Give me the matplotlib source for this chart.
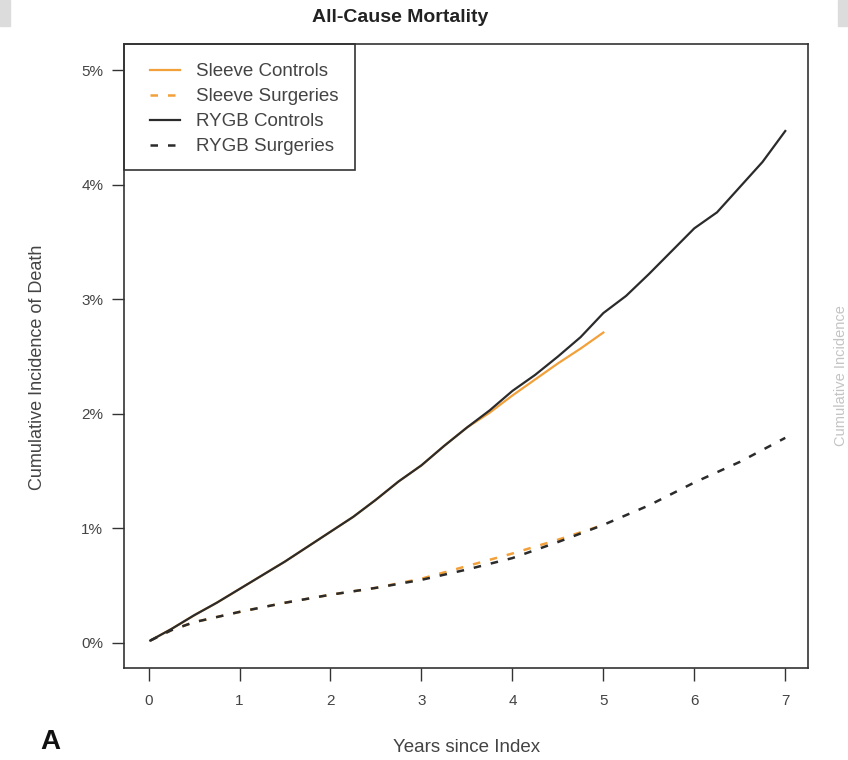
import numpy as np
import matplotlib
matplotlib.use("Agg")
import matplotlib.pyplot as plt
from matplotlib.patches import Rectangle

plt.rcParams['font.family'] = ['Liberation Sans', 'DejaVu Sans']

# values (years, cumulative incidence in %)
rygb_ctrl_t = [0.02, 0.25, 0.5, 0.75, 1, 1.25, 1.5, 1.75, 2, 2.25, 2.5, 2.75, 3, 3.25,
               3.5, 3.75, 4, 4.25, 4.5, 4.75, 5, 5.25, 5.5, 5.75, 6, 6.25, 6.5, 6.75, 7]
rygb_ctrl_y = [0.02, 0.12, 0.24, 0.35, 0.47, 0.59, 0.71, 0.84, 0.97, 1.10, 1.25, 1.41, 1.55,
               1.72, 1.88, 2.03, 2.20, 2.34, 2.50, 2.67, 2.88, 3.03, 3.22, 3.42, 3.62, 3.76,
               3.98, 4.20, 4.47]

sleeve_ctrl_t = [0.02, 0.25, 0.5, 0.75, 1, 1.25, 1.5, 1.75, 2, 2.25, 2.5, 2.75, 3, 3.25,
                 3.5, 3.75, 4, 4.25, 4.5, 4.75, 5]
sleeve_ctrl_y = [0.02, 0.12, 0.24, 0.35, 0.47, 0.59, 0.71, 0.84, 0.97, 1.10, 1.25, 1.41, 1.55,
                 1.72, 1.88, 2.01, 2.16, 2.30, 2.44, 2.57, 2.71]

rygb_surg_t = [0.02, 0.25, 0.5, 1, 1.5, 2, 2.5, 3, 3.5, 4, 4.5, 5, 5.5, 6, 6.5, 7]
rygb_surg_y = [0.02, 0.11, 0.18, 0.27, 0.35, 0.42, 0.48, 0.55, 0.64, 0.74, 0.88, 1.03,
               1.20, 1.40, 1.58, 1.79]

sleeve_surg_t = [0.02, 0.25, 0.5, 1, 1.5, 2, 2.5, 3, 3.5, 4, 4.5, 5]
sleeve_surg_y = [0.02, 0.11, 0.18, 0.27, 0.35, 0.42, 0.48, 0.56, 0.67, 0.78, 0.90, 1.03]

x_ticks = [0, 1, 2, 3, 4, 5, 6, 7]
y_ticks = [0, 1, 2, 3, 4, 5]

orange = '#F2A03A'
dark = '#2b2b2b'
text_col = '#444444'

W, H = 848, 760
fig = plt.figure(figsize=(W / 100, H / 100), dpi=100)
ax = fig.add_axes([124 / W, 92 / H, 684 / W, 624 / H])

ax.plot(sleeve_ctrl_t, sleeve_ctrl_y, color=orange, lw=1.6, label='Sleeve Controls')
ax.plot(sleeve_surg_t, sleeve_surg_y, color=orange, lw=1.8, dashes=(3, 4),
        label='Sleeve Surgeries')
ax.plot(rygb_ctrl_t, rygb_ctrl_y, color=dark, lw=1.6, label='RYGB Controls')
ax.plot(rygb_surg_t, rygb_surg_y, color=dark, lw=1.8, dashes=(3, 4),
        label='RYGB Surgeries')

ax.set_xlim(-0.27, 7.25)
ax.set_ylim(-0.22, 5.23)
ax.set_xticks(x_ticks)
ax.set_xticklabels([str(v) for v in x_ticks])
ax.set_yticks(y_ticks)
ax.set_yticklabels([f'{v}%' for v in y_ticks])
ax.tick_params(axis='both', direction='out', length=9, width=1, color='#333333',
               labelsize=11, labelcolor=text_col)
ax.tick_params(axis='x', pad=10)
ax.tick_params(axis='y', pad=6)
for s in ax.spines.values():
    s.set_color('#333333')
    s.set_linewidth(1.2)

# legend without its own frame, box drawn separately (R-style padding)
leg = ax.legend(loc='upper left', bbox_to_anchor=(150 / W, 1 - 63 / H),
                bbox_transform=fig.transFigure, borderaxespad=0, borderpad=0,
                frameon=False, fontsize=13.5, handlelength=1.6, handletextpad=0.85,
                labelspacing=0.42)
for t in leg.get_texts():
    t.set_color(text_col)
fig.patches.append(Rectangle((124 / W, 1 - 170 / H), 231 / W, 126 / H,
                             transform=fig.transFigure, fill=False,
                             edgecolor='#333333', lw=1.2, zorder=5))

fig.text(400 / W, 1 - 18 / H, 'All-Cause Mortality', ha='center', va='center',
         fontsize=14, fontweight='bold', color='#222222')
fig.text(467 / W, 1 - 747 / H, 'Years since Index', ha='center', va='center',
         fontsize=13.5, color=text_col)
fig.text(38 / W, 1 - 367 / H, 'Cumulative Incidence of Death', ha='center',
         va='center', rotation=90, fontsize=13, color=text_col)
fig.text(50 / W, 1 - 742 / H, 'A', ha='center', va='center', fontsize=20,
         fontweight='bold', color='#111111')

# edge of the neighbouring panel
fig.text(841 / W, 1 - 376 / H, 'Cumulative Incidence', ha='center', va='center',
         rotation=90, fontsize=10.5, color='#c4c4c4')
fig.patches.append(Rectangle((0, 1 - 26 / H), 10 / W, 26 / H,
                             transform=fig.transFigure, color='#dcdcdc'))
fig.patches.append(Rectangle((838 / W, 1 - 26 / H), 10 / W, 26 / H,
                             transform=fig.transFigure, color='#dcdcdc'))

fig.savefig('out.png', dpi=100)
